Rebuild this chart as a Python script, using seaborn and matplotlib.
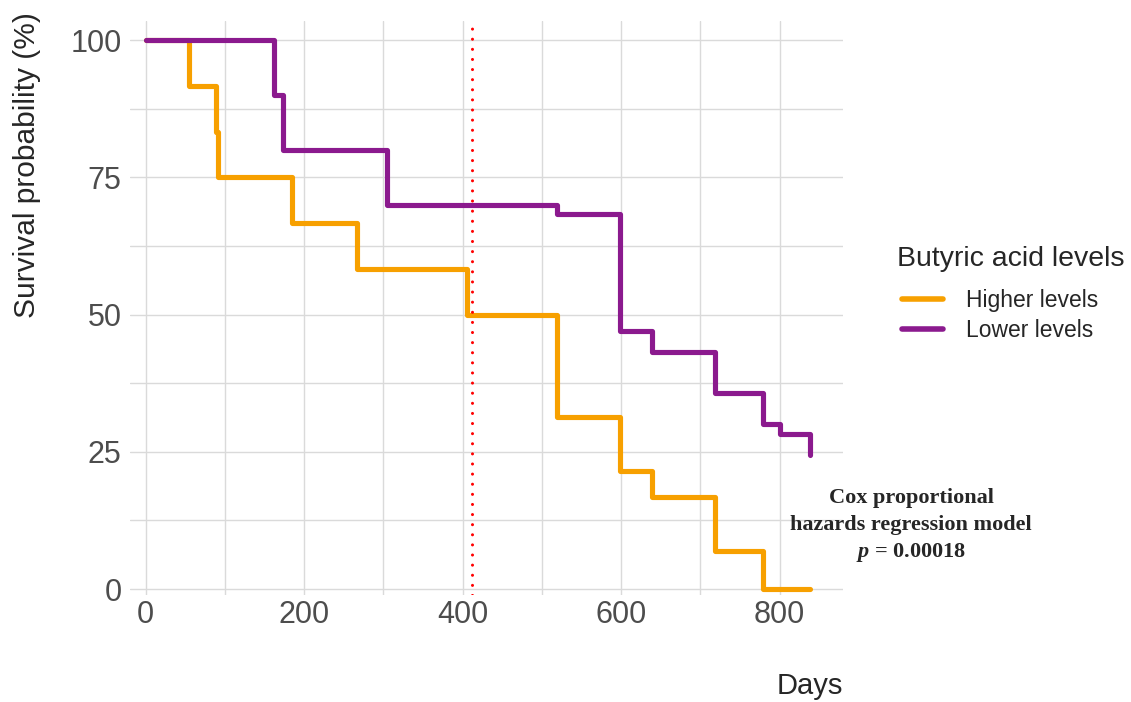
import pandas as pd
import matplotlib.pyplot as plt
import seaborn as sns
from matplotlib.ticker import MultipleLocator

# Kaplan-Meier step curves (days, survival %)
higher_days = [0, 55, 89, 91, 184, 266, 405, 519, 599, 639, 719, 779, 838]
higher_surv = [100, 91.7, 83.3, 75, 66.7, 58.3, 50, 31.3, 21.5, 16.7, 6.9, 0, 0]
lower_days = [0, 162, 173, 304, 519, 599, 639, 719, 779, 800, 838]
lower_surv = [100, 90, 80, 70, 68.3, 47, 43.2, 35.8, 30, 28.2, 24.5]
groups = ['Higher levels', 'Lower levels']
group_colors = ['#F7A000', '#8B1A8E']
cutoff_day = 412
x_ticks = [0, 200, 400, 600, 800]
y_ticks = [0, 25, 50, 75, 100]
cox_text = ['Cox proportional', 'hazards regression model', '$p$ = 0.00018']

df = pd.concat([
    pd.DataFrame({'Days': higher_days, 'Survival': higher_surv, 'Group': groups[0]}),
    pd.DataFrame({'Days': lower_days, 'Survival': lower_surv, 'Group': groups[1]}),
], ignore_index=True)

sns.set_style('whitegrid')
plt.rcParams['font.family'] = ['Liberation Sans', 'DejaVu Sans']
plt.rcParams['mathtext.fontset'] = 'custom'
plt.rcParams['mathtext.it'] = 'Liberation Serif:italic:bold'
plt.rcParams['mathtext.rm'] = 'Liberation Serif:bold'

fig = plt.figure(figsize=(11.31, 7.02), dpi=100)
ax = fig.add_axes([0.1149, 0.1531, 0.6304, 0.8172])

sns.lineplot(data=df, x='Days', y='Survival', hue='Group', hue_order=groups,
             palette=group_colors, drawstyle='steps-post', linewidth=3.7,
             estimator=None, ax=ax)

# dotted cut-off line
ax.axvline(cutoff_day, color='red', linewidth=2.2, linestyle=(0, (0.01, 3.3)),
           dash_capstyle='round', zorder=3)

ax.set_xlim(-20, 880)
ax.set_ylim(-1, 103.5)
ax.set_xticks(x_ticks)
ax.set_yticks(y_ticks)
ax.xaxis.set_minor_locator(MultipleLocator(100))
ax.yaxis.set_minor_locator(MultipleLocator(12.5))
ax.grid(which='both', color='#DADADA', linewidth=1.0)
ax.tick_params(which='both', length=0, labelsize=22, labelcolor='#4D4D4D', pad=4)
ax.tick_params(axis='y', pad=6)
for s in ax.spines.values():
    s.set_visible(False)

ax.set_xlabel('Days', fontsize=21, loc='right', labelpad=30)
ax.set_ylabel('Survival probability (%)', fontsize=21.5, loc='top')
ax.yaxis.set_label_coords(-0.125, 1.015)

handles, labels = ax.get_legend_handles_labels()
leg = ax.legend(handles, labels, frameon=False,
                loc='upper left', bbox_to_anchor=(902 / 1131, 1 - 289 / 702),
                bbox_transform=fig.transFigure, fontsize=16.5,
                handlelength=1.8, handletextpad=1.0, labelspacing=0.3,
                borderpad=0, borderaxespad=0)
for h in leg.get_lines():
    h.set_linewidth(4)
fig.text(897 / 1131, 1 - 259 / 702, 'Butyric acid levels', ha='left', va='center',
         fontsize=20.5)

# Cox model annotation
for txt, yb in zip(cox_text, [503, 530, 557]):
    fig.text(911 / 1131, 1 - yb / 702, txt, ha='center', va='baseline',
             fontsize=16, fontweight='bold', family='Liberation Serif')

plt.savefig('out.png', dpi=100)
